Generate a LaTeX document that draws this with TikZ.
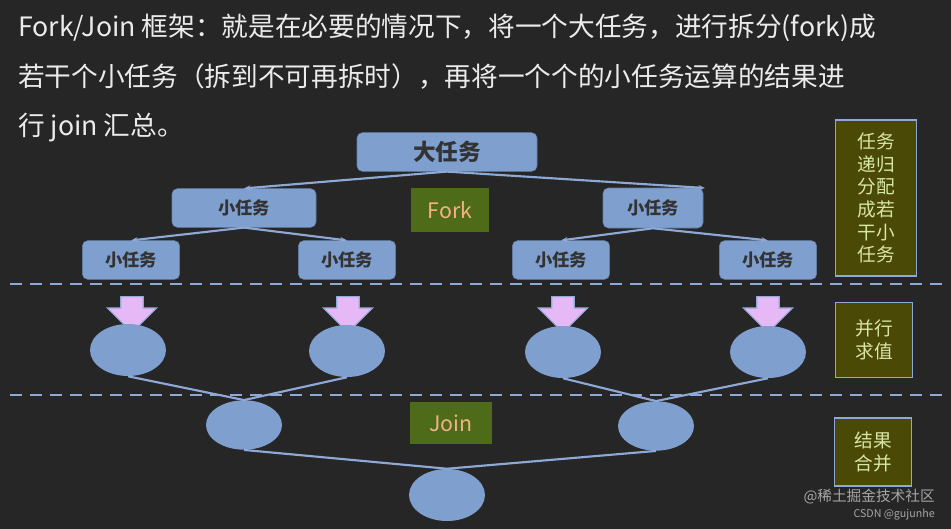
\documentclass[tikz,border=0pt]{standalone}
\usepackage{fontspec}
\setmainfont{Noto Sans CJK SC}
\usetikzlibrary{shapes.arrows,arrows.meta,shapes.geometric}
\definecolor{bg}{HTML}{262626}
\definecolor{boxb}{HTML}{7F9FCF}
\definecolor{lineb}{HTML}{8FA9D6}
\definecolor{olive}{HTML}{4A4A06}
\definecolor{oltext}{HTML}{D8E6A8}
\definecolor{pinkk}{HTML}{E6B8F5}
\definecolor{forkg}{HTML}{4E6B1A}
\definecolor{forkt}{HTML}{F4B183}
\tikzset{
 task/.style={draw=boxb!80!black,fill=boxb,rounded corners=4pt,font=\bfseries\fontsize{13}{13}\selectfont,text=black!80,inner sep=0pt},
 lbl/.style={fill=forkg,draw=none,font=\fontsize{16}{16}\selectfont,text=forkt,inner sep=0pt},
 side/.style={fill=olive,draw=lineb,line width=1pt,font=\fontsize{14}{17}\selectfont,text=oltext,align=center,inner sep=0pt},
 ell/.style={ellipse,fill=boxb,draw=none,minimum width=57pt,minimum height=39pt},
 con/.style={draw=lineb,line width=1.6pt},
 arr/.style={con,-{Stealth[length=5pt]}},
 dashline/.style={draw=lineb,line width=1.6pt,dash pattern=on 9pt off 6pt},
 dn/.style={single arrow,shape border rotate=270,fill=pinkk,draw=lineb,line width=0.8pt,minimum height=27pt,minimum width=37pt,single arrow head extend=10pt,inner sep=8pt}
}
\begin{document}
\begin{tikzpicture}[x=0.75pt,y=-0.75pt]
\fill[bg] (0,0) rectangle (951,529);
\useasboundingbox (0,0) rectangle (951,529);
\begin{scope}[every node/.style={anchor=west,text=white!92!black,font=\fontsize{20}{20}\selectfont,inner sep=0pt}]
\node (t1) at (18,28) {Fork/Join 框架：就是在必要的情况下，将一个大任务，进行拆分(fork)成};
\node (t2) at (18,77) {若干个小任务（拆到不可再拆时），再将一个个的小任务运算的结果进};
\node (t3) at (18,128) {行 join 汇总。};
\end{scope}
\node[task,minimum width=135pt,minimum height=29pt,font=\bfseries\fontsize{17}{17}\selectfont] (big) at (447,152) {大任务};
\node[task,minimum width=108pt,minimum height=29pt] (l1) at (244,208) {小任务};
\node[task,minimum width=75pt,minimum height=30pt] (r1) at (653,208) {小任务};
\node[task,minimum width=73pt,minimum height=29pt] (a) at (131,260) {小任务};
\node[task,minimum width=73pt,minimum height=29pt] (b) at (347,260) {小任务};
\node[task,minimum width=73pt,minimum height=29pt] (c) at (561,260) {小任务};
\node[task,minimum width=73pt,minimum height=29pt] (d) at (768,260) {小任务};
\coordinate (rt) at (705,188);
\draw[arr] (big.south) -- (l1.north);
\draw[arr] (big.south) -- (rt);
\draw[arr] (l1.south) -- (a.north);
\draw[arr] (l1.south) -- (b.north);
\draw[arr] (r1.south) -- (c.north);
\draw[arr] (r1.south) -- (d.north);
\node[lbl,minimum width=59pt,minimum height=33pt] (fork) at (450,210) {Fork};
\node[lbl,minimum width=61pt,minimum height=31pt] (join) at (451,423) {Join};
\node[side,minimum width=61pt,minimum height=117pt] (s1) at (876,198) {任务\\递归\\分配\\成若\\干小\\任务};
\node[side,minimum width=58pt,minimum height=56pt] (s2) at (874,340) {并行\\求值};
\node[side,minimum width=58pt,minimum height=51pt] (s3) at (873,452) {结果\\合并};
\coordinate (d1a) at (10,284); \coordinate (d1b) at (945,284);
\coordinate (d2a) at (10,395); \coordinate (d2b) at (945,395);
\draw[dashline] (d1a) -- (d1b);
\draw[dashline] (d2a) -- (d2b);
\node[dn] (pa) at (132,309) {};
\node[dn] (pb) at (348,309) {};
\node[dn] (pc) at (563,309) {};
\node[dn] (pd) at (768,309) {};
\node[ell] (e1) at (128,350) {};
\node[ell] (e2) at (347,351) {};
\node[ell] (e3) at (563,352) {};
\node[ell] (e4) at (768,352) {};
\node[ell,minimum height=37pt] (j1) at (244,425) {};
\node[ell,minimum height=37pt] (j2) at (656,426) {};
\node[ell] (z) at (447,495) {};
\draw[con] (e1.south) -- (j1.north);
\draw[con] (e2.south) -- (j1.north);
\draw[con] (e3.south) -- (j2.north);
\draw[con] (e4.south) -- (j2.north);
\draw[con] (j1.south) -- (z.north);
\draw[con] (j2.south) -- (z.north);
\node[anchor=east,text=gray!70,font=\fontsize{11}{11}\selectfont,inner sep=0pt] (w1) at (935,497) {@稀土掘金技术社区};
\node[anchor=east,text=gray!70,font=\fontsize{8}{8}\selectfont,inner sep=0pt] (w2) at (935,515) {CSDN @gujunhe};
\end{tikzpicture}
\end{document}
